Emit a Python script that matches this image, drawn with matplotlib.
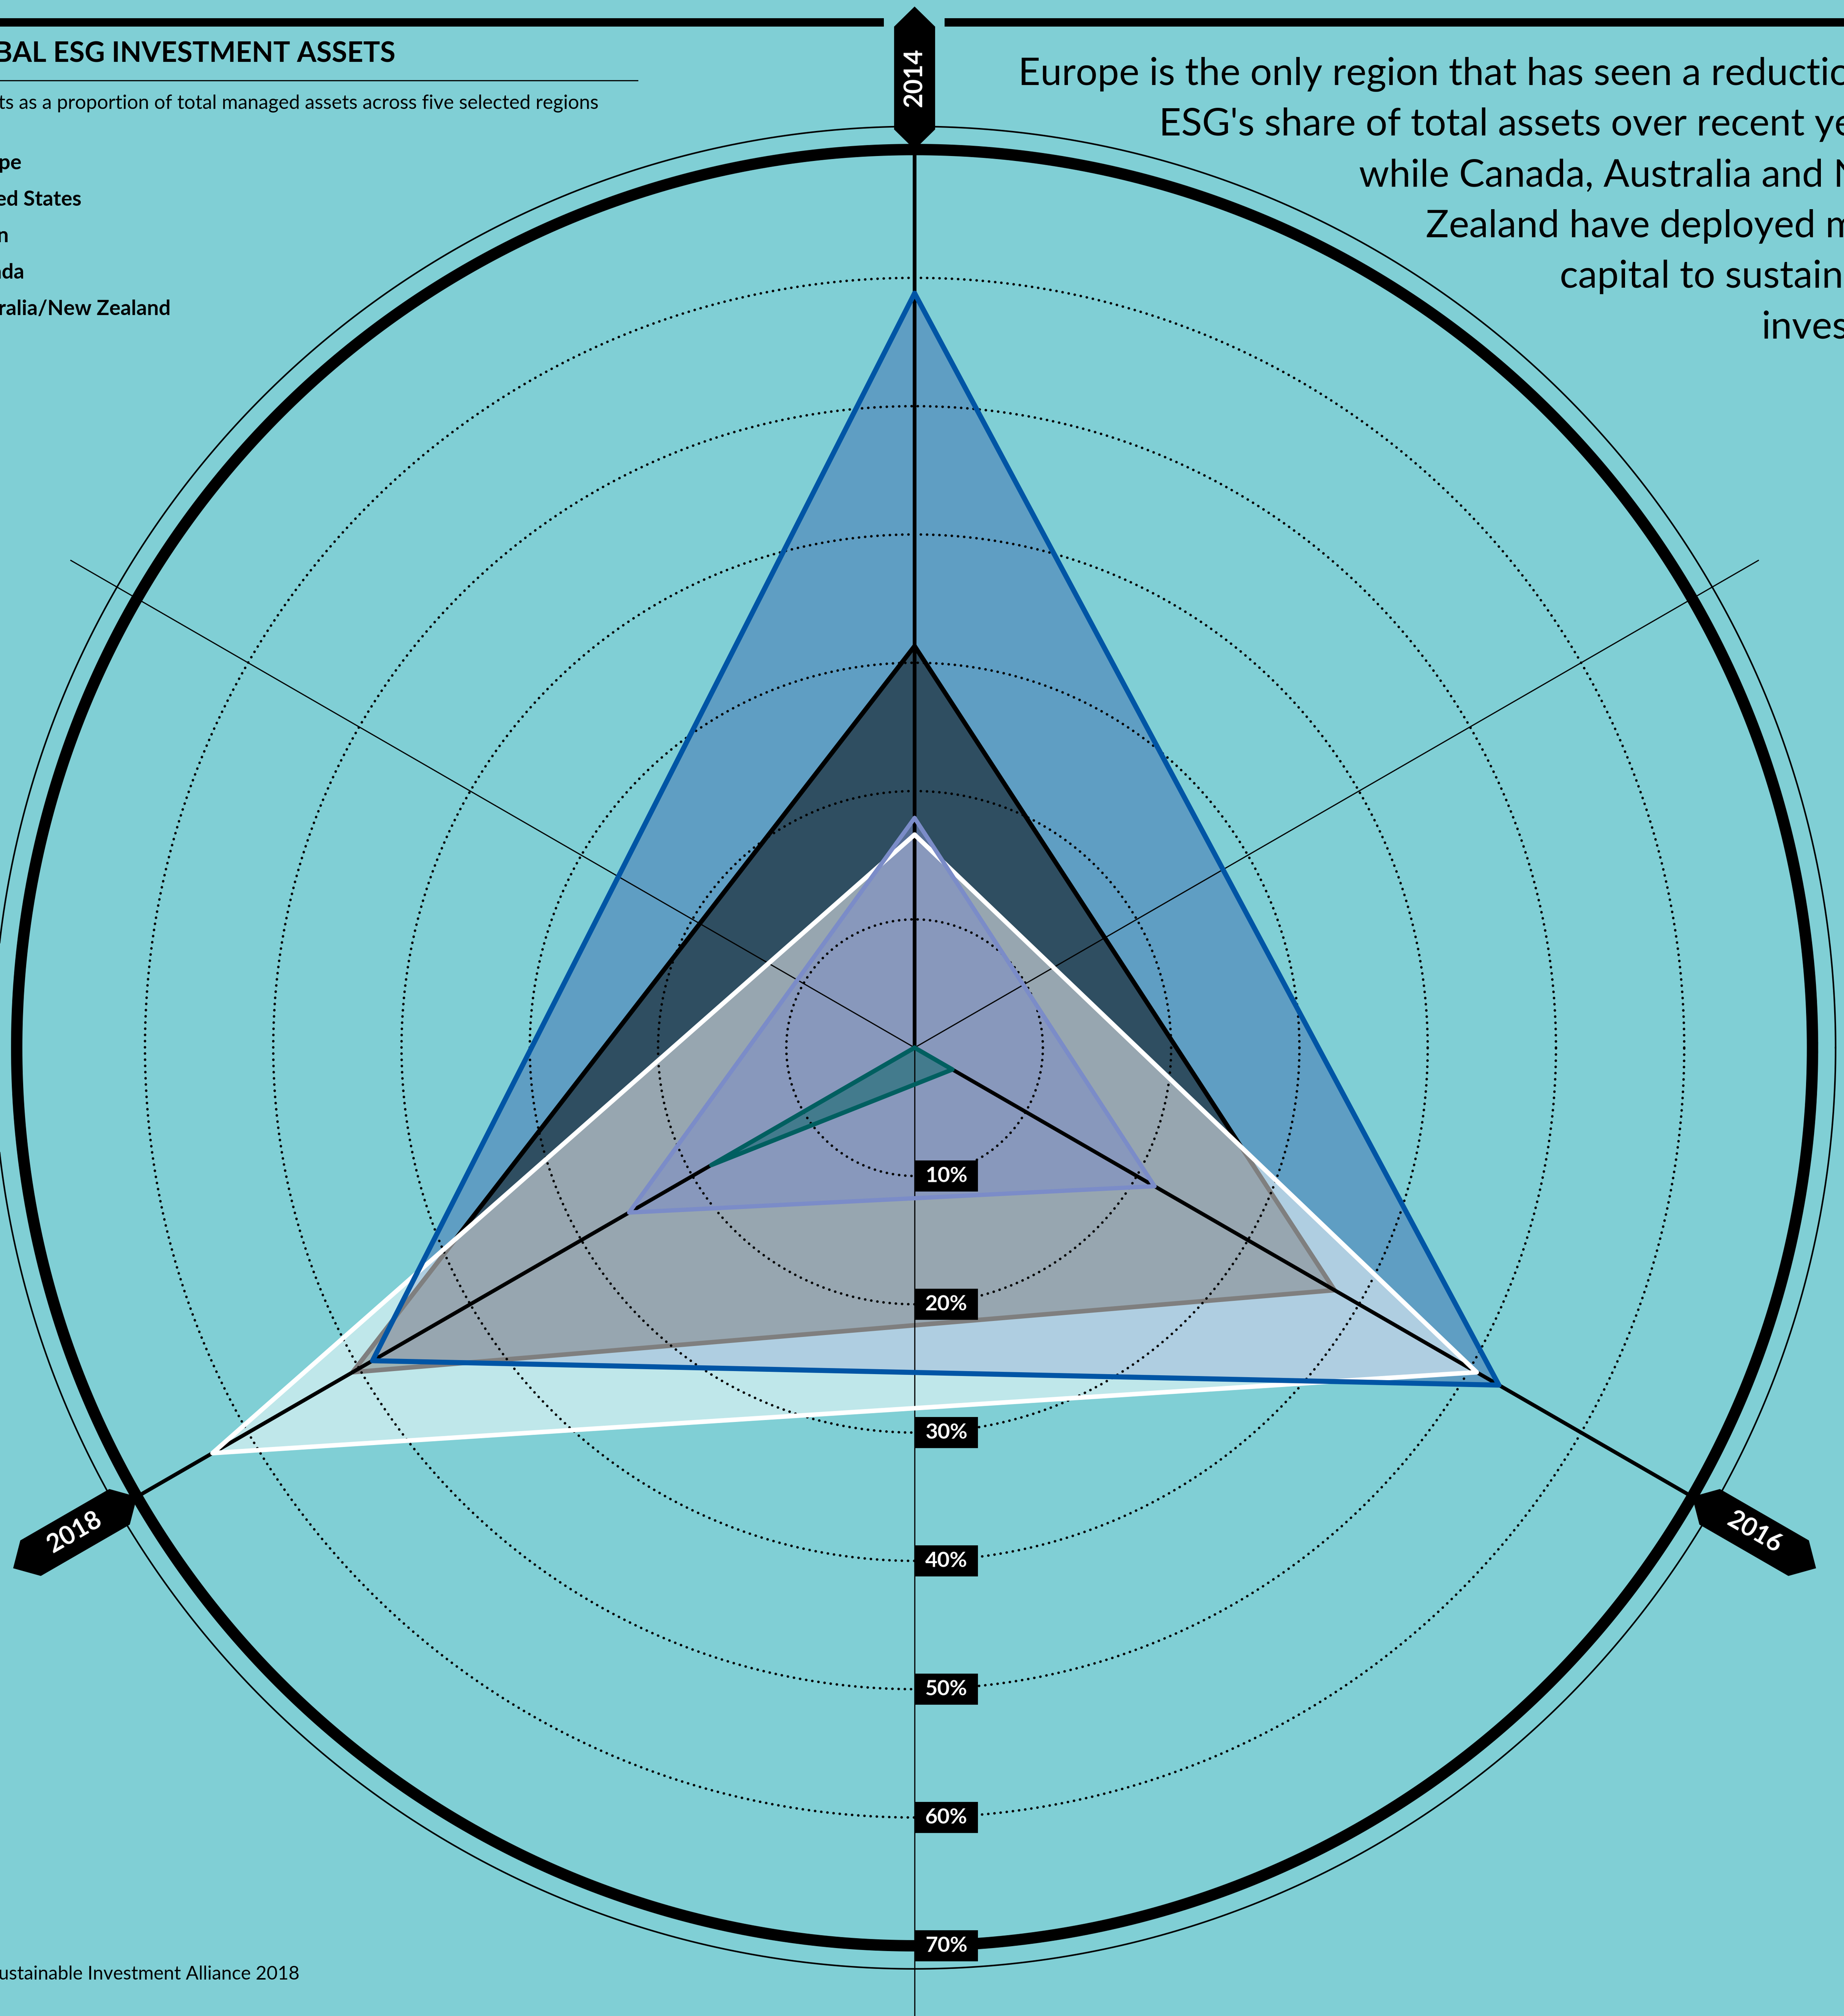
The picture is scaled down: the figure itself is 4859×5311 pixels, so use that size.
import numpy as np
import matplotlib.pyplot as plt
from matplotlib.patches import Polygon, Rectangle

# -----------------------------
# data (share of ESG assets in total managed assets, %)
# -----------------------------
years = ["2014", "2016", "2018"]
regions = ["Europe", "United States", "Japan", "Canada", "Australia/New Zealand"]
europe = [58.8, 52.6, 48.8]
united_states = [17.9, 21.6, 25.7]
japan = [0.0, 3.4, 18.3]
canada = [31.3, 37.8, 50.6]
aus_nz = [16.6, 50.6, 63.2]
ring_values = [10, 20, 30, 40, 50, 60, 70]
ring_labels = ["10%", "20%", "30%", "40%", "50%", "60%", "70%"]

title = "GLOBAL ESG INVESTMENT ASSETS"
subtitle = "Sustainable investment assets as a proportion of total managed assets across five selected regions"
source = "Source: Global Sustainable Investment Alliance 2018"
note_lines = [
    "Europe is the only region that has seen a reduction in",
    "ESG's share of total assets over recent years,",
    "while Canada, Australia and New",
    "Zealand have deployed more",
    "capital to sustainable",
    "investing",
]

# -----------------------------
# layout: one axes over the whole figure, units = percentage points
# -----------------------------
W, H, DPI = 4859, 5311, 300
CX, CY = 2410, 2760      # radar centre in pixels
PX = 33.8                # pixels per percentage point
BG = "#80CFD5"
FONT = ["Lato", "DejaVu Sans"]

def X(px):
    return (px - CX) / PX

def Y(py):
    return (CY - py) / PX

fig = plt.figure(figsize=(W / DPI, H / DPI), dpi=DPI, facecolor=BG)
ax = fig.add_axes([0, 0, 1, 1])
ax.set_xlim(X(0), X(W))
ax.set_ylim(Y(H), Y(0))
ax.axis("off")
renderer = fig.canvas.get_renderer()

angles = np.deg2rad([90, -30, 210])   # 2014 top, 2016 lower right, 2018 lower left

def xy(vals):
    v = np.asarray(vals, dtype=float)
    return v * np.cos(angles), v * np.sin(angles)

def closed(a):
    return np.append(a, a[0])

# -----------------------------
# fills + outlines
# -----------------------------
series = [
    # values, fill colour, alpha, line colour, line width, fill z, line z
    (europe, "#406FB3", 0.5, "#0055A5", 3.2, 2, 12),
    (canada, "black", 0.5, "black", 2.9, 3, 3.5),
    (aus_nz, "white", 0.5, "white", 2.9, 4, 11),
    (united_states, "#7B8CC8", 0.5, "#7B8CC8", 2.7, 5, 13),
    (japan, "#005F60", 0.5, "#005F60", 2.8, 6, 14),
]
for vals, fc, a, lc, lw, zf, zl in series:
    x, y = xy(vals)
    ax.fill(x, y, color=fc, alpha=a, lw=0, zorder=zf)
    ax.plot(closed(x), closed(y), color=lc, lw=lw, solid_joinstyle="round",
            solid_capstyle="round", zorder=zl)

# -----------------------------
# rings
# -----------------------------
phi = np.linspace(0, 2 * np.pi, 1441)
for r in ring_values[:-1]:
    ax.plot(r * np.cos(phi), r * np.sin(phi), color="black", lw=1.6,
            ls=(0, (0.05, 2.4)), dash_capstyle="round", zorder=7)
ax.plot(ring_values[-1] * np.cos(phi), ring_values[-1] * np.sin(phi), color="black", lw=7.2, zorder=8)
ax.plot(71.8 * np.cos(phi), 71.8 * np.sin(phi), color="black", lw=1.0, zorder=8)

# -----------------------------
# spokes + year tags
# -----------------------------
for ang, yr in zip(angles, years):
    ax.plot([0, 75 * np.cos(ang)], [0, 75 * np.sin(ang)], color="black", lw=2.4,
            solid_capstyle="butt", zorder=9)
    ax.plot([0, -76 * np.cos(ang)], [0, -76 * np.sin(ang)], color="black", lw=0.75,
            solid_capstyle="butt", zorder=9)
    u = np.array([70.0, 71.57, 79.58, 81.15, 79.58, 71.57])
    v = np.array([0.0, 1.6, 1.6, 0.0, -1.6, -1.6])
    px_ = u * np.cos(ang) - v * np.sin(ang)
    py_ = u * np.sin(ang) + v * np.cos(ang)
    ax.add_patch(Polygon(np.column_stack([px_, py_]), closed=True, fc="black", ec="none", zorder=20))
    deg = np.rad2deg(ang)
    rot = deg if -90 <= deg <= 90 else deg - 180
    ax.text(75.6 * np.cos(ang), 75.6 * np.sin(ang), yr, color="white", fontsize=16,
            fontweight="bold", family=FONT, rotation=rot, rotation_mode="anchor",
            ha="center", va="center", zorder=21)

# top rule with a gap for the 2014 tag
ax.plot([X(0), -2.4], [Y(59), Y(59)], color="black", lw=5.3, solid_capstyle="butt", zorder=9)
ax.plot([2.35, X(W)], [Y(59), Y(59)], color="black", lw=5.3, solid_capstyle="butt", zorder=9)

# ring labels in black boxes
for r, lab in zip(ring_values, ring_labels):
    ax.add_patch(Rectangle((0, -r - 1.21), 4.94, 2.43, fc="black", ec="none", zorder=25))
    ax.text(2.47, -r, lab, color="white", fontsize=13.5, fontweight="bold", family=FONT,
            ha="center", va="center", zorder=26)

# -----------------------------
# texts (partly cut off by the page edges, as in the original)
# -----------------------------
def width_px(s, size, weight="normal"):
    t = ax.text(0, 0, s, fontsize=size, fontweight=weight, family=FONT)
    w = t.get_window_extent(renderer).width
    t.remove()
    return w

def fit(s, target, weight="normal"):
    return 20 * target / width_px(s, 20, weight)

# title, rule, subtitle
fs = fit("BAL ESG INVESTMENT ASSETS", 1060, "bold")
ax.text(X(1042), Y(163), title, fontsize=fs, fontweight="bold", family=FONT,
        ha="right", va="baseline", zorder=30)
ax.plot([X(0), X(1680)], [Y(212), Y(212)], color="black", lw=0.75, zorder=30)
fs = fit("ts as a proportion of total managed assets across five selected regions", 1585)
ax.text(X(1577), Y(287), subtitle, fontsize=fs, family=FONT, ha="right", va="baseline", zorder=30)

# legend labels
fs = fit("ralia/New Zealand", 455, "bold")
x0 = 450 - width_px("Australia/New Zealand", fs, "bold")
for i, name in enumerate(regions):
    ax.text(X(x0), Y(446 + 96 * i), name, fontsize=fs, fontweight="bold", family=FONT,
            ha="left", va="baseline", zorder=30)

# source
fs = fit("ustainable Investment Alliance 2018", 795)
ax.text(X(789), Y(5215), source, fontsize=fs, family=FONT, ha="right", va="baseline", zorder=30)

# annotation on the right
fs = fit("Europe is the only region that has seen a reductio", 2200)
right = 2683 + width_px(note_lines[0], fs)
for i, line in enumerate(note_lines):
    ax.text(X(right), Y(224 + 133.5 * i), line, fontsize=fs, family=FONT,
            ha="right", va="baseline", zorder=30)

fig.savefig("out.png", dpi=DPI, facecolor=BG)
